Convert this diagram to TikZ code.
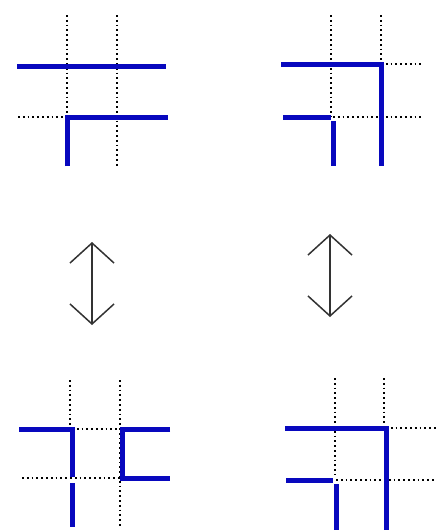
\documentclass[tikz,border=0pt]{standalone}
\usetikzlibrary{arrows.meta}
\definecolor{wireblue}{RGB}{8,8,190}
\tikzset{
  wire/.style={draw=wireblue, line width=5pt},
  guide/.style={draw=black, line width=1.3pt, dash pattern=on 1.8pt off 3pt},
  swap/.style={draw=black!80, line width=1.5pt,
    {Straight Barb[length=20pt,width=44pt,line width=1.5pt]}-{Straight Barb[length=20pt,width=44pt,line width=1.5pt]}}
}
\begin{document}
\begin{tikzpicture}[x=1pt,y=-1pt]
\useasboundingbox (0,0) rectangle (436,530);

% panel A (top left)
\draw[guide] (67,15) -- (67,117);
\draw[guide] (117,15) -- (117,166);
\draw[guide] (18,117) -- (67,117);
\draw[wire] (17,66) -- (166,66);
\draw[wire,line join=miter] (67,166) -- (67,117) -- (168,117);

% panel B (top right)
\draw[guide] (331,15) -- (331,117);
\draw[guide] (381,15) -- (381,64);
\draw[guide] (381,64) -- (421,64);
\draw[guide] (333,117) -- (421,117);
\draw[wire,line join=miter] (281,64) -- (381,64) -- (381,166);
\draw[wire] (283,117) -- (331,117);
\draw[wire] (333,121) -- (333,166);

% exchange arrows
\coordinate (la) at (92,242);
\coordinate (lb) at (92,325);
\coordinate (ra) at (330,234);
\coordinate (rb) at (330,317);
\draw[swap] (la) -- (lb);
\draw[swap] (ra) -- (rb);

% panel C (bottom left)
\draw[guide] (70,380) -- (70,429);
\draw[guide] (120,380) -- (120,527);
\draw[guide] (72,429) -- (120,429);
\draw[guide] (22,478) -- (120,478);
\draw[wire,line join=miter] (19,429) -- (72,429) -- (72,477);
\draw[wire] (72,483) -- (72,527);
\draw[wire,line join=miter] (170,429) -- (122,429) -- (122,478) -- (170,478);

% panel D (bottom right)
\draw[guide] (335,378) -- (335,475);
\draw[guide] (384,378) -- (384,428);
\draw[guide] (386,428) -- (436,428);
\draw[guide] (336,480) -- (436,480);
\draw[wire,line join=miter] (285,428) -- (386,428) -- (386,530);
\draw[wire] (286,480) -- (333,480);
\draw[wire] (336,484) -- (336,530);
\end{tikzpicture}
\end{document}
